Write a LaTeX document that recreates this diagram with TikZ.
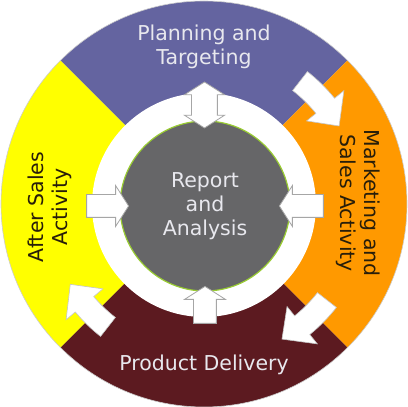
\documentclass[tikz,border=0pt]{standalone}
\usepackage{fontspec}
\setmainfont{DejaVu Sans}
\usetikzlibrary{shapes.arrows}
\definecolor{plan}{RGB}{100,100,160}
\definecolor{market}{RGB}{255,153,0}
\definecolor{deliv}{RGB}{92,26,32}
\definecolor{after}{RGB}{255,255,0}
\definecolor{report}{RGB}{102,102,104}
\definecolor{rim}{RGB}{153,204,51}
\definecolor{lighttext}{RGB}{232,232,238}
\definecolor{darktext}{RGB}{40,30,10}

% curved arrow along the ring: tail angle, head base angle, tip angle
\newcommand{\cyclearrow}[3]{
\path [bent] (#1:168) arc [start angle=#1, end angle=#2, radius=168] -- (#2:180)
  -- (#3:156) -- (#2:132) -- (#2:144) arc [start angle=#2, end angle=#1, radius=144] -- cycle;
}

\begin{document}
\begin{tikzpicture}[x=1pt,y=1pt,
  every node/.style={font=\fontsize{20.5}{24}\selectfont, align=center},
  blockarrow/.style={single arrow, draw=gray!70, fill=white, line width=.8pt, inner xsep=0pt,
    inner ysep=11pt, single arrow head extend=9, single arrow tip angle=115},
  bent/.style={fill=white, draw=gray!45, line width=.6pt}]
\useasboundingbox (-204,-203) rectangle (204,204);
\fill [plan] (0,0) -- (45:203) arc [start angle=45, end angle=135, radius=203] -- cycle;
\fill [market] (0,0) -- (-45:203) arc [start angle=-45, end angle=45, radius=203] -- cycle;
\fill [deliv] (0,0) -- (-135:203) arc [start angle=-135, end angle=-45, radius=203] -- cycle;
\fill [after] (0,0) -- (135:203) arc [start angle=135, end angle=225, radius=203] -- cycle;
\draw [gray!40, line width=.6pt] (0,0) circle [radius=203];
\fill [white] (0,-1) circle [radius=112];
\node [circle, fill=report, draw=rim, line width=1.2pt, minimum size=170, inner sep=0pt,
  text=lighttext] (report) at (1,-2) {Report\\and\\Analysis};
\node [text=lighttext] (plan) at (0,157) {Planning and\\Targeting};
\node [text=darktext, rotate=-90] (market) at (154,1) {Marketing and\\Sales Activity};
\node [text=lighttext] (deliv) at (0,-161) {Product Delivery};
\node [text=darktext, rotate=90] (after) at (-154,-3) {After Sales\\Activity};
\node [blockarrow, minimum height=42] (afterin) at (-100,-2) {};
\node [blockarrow, minimum height=44, rotate=180] (marketin) at (101,-2) {};
\node [blockarrow, minimum height=37, rotate=90] (delivin) at (1,-104.5) {};
\node [double arrow, draw=gray!70, fill=white, line width=.8pt, inner xsep=0pt, inner ysep=12.5pt,
  double arrow head extend=7, double arrow tip angle=115, minimum height=46, rotate=90]
  (planio) at (0.5,99) {};
\cyclearrow{52}{39}{30}
\cyclearrow{-38}{-51}{-60}
\cyclearrow{-128}{-140}{-149}
\end{tikzpicture}
\end{document}
